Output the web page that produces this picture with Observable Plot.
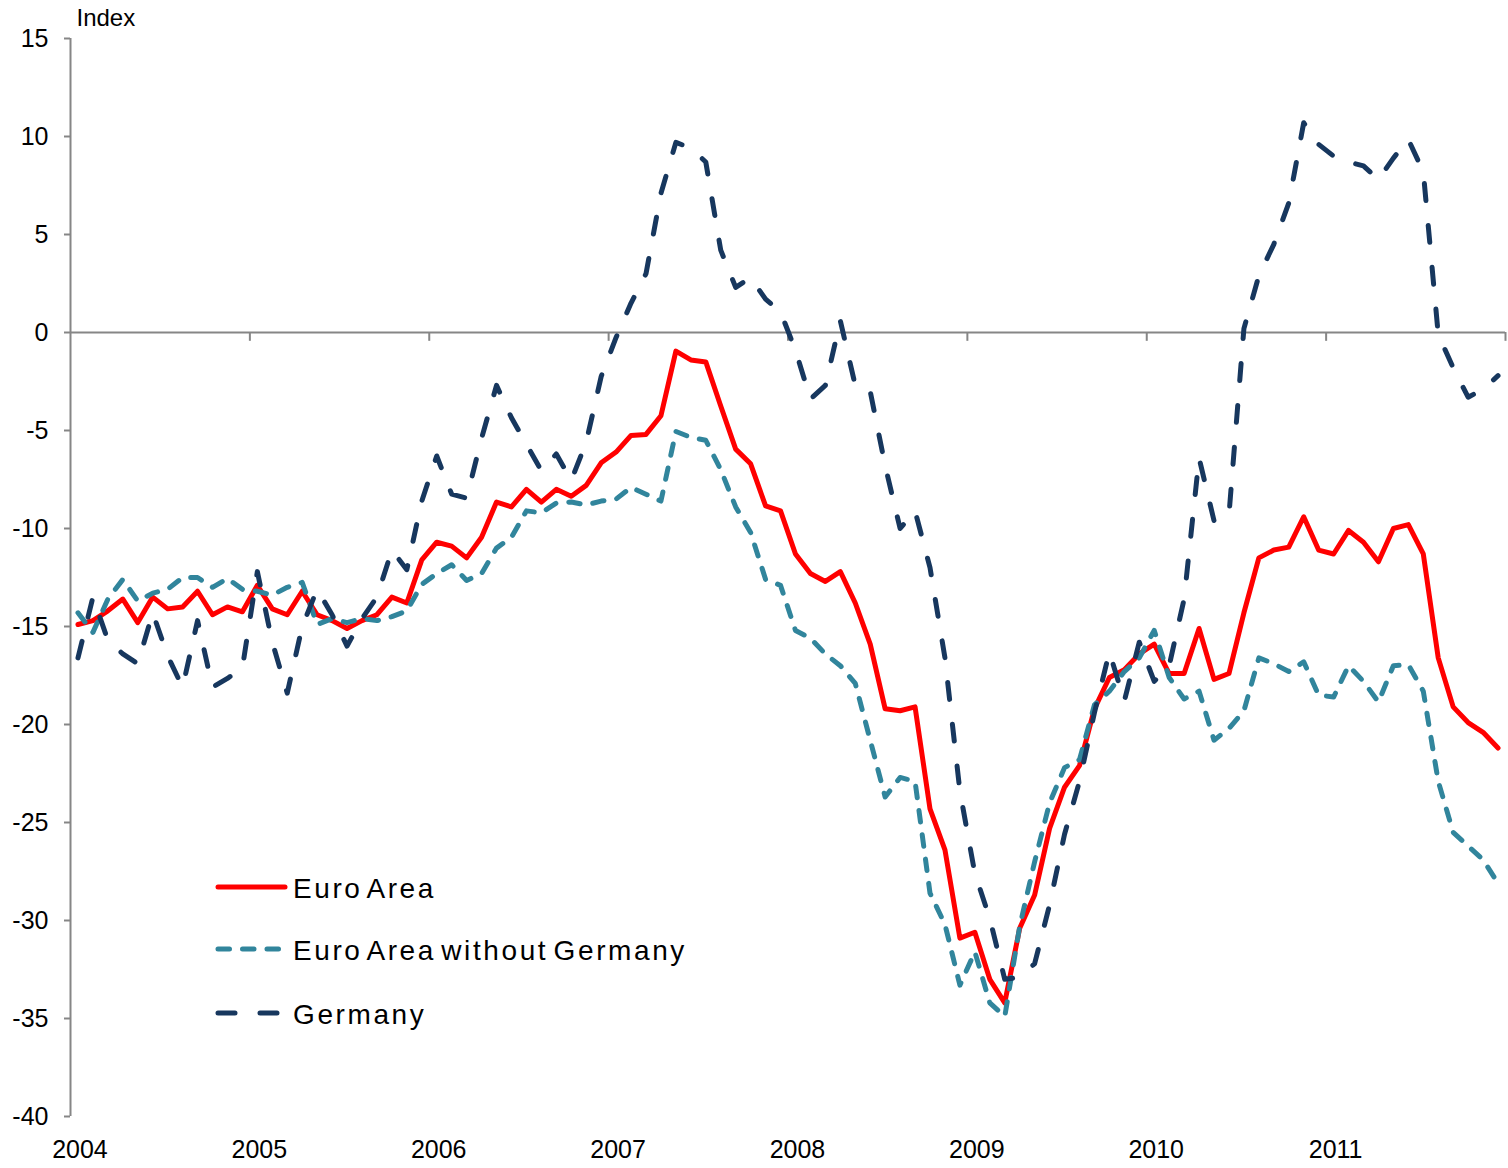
<!DOCTYPE html>
<html>
<head>
<meta charset="utf-8">
<script src="https://cdn.jsdelivr.net/npm/d3@7"></script>
<script src="https://cdn.jsdelivr.net/npm/@observablehq/plot@0.6"></script>
<style>
  html, body { margin: 0; padding: 0; background: #ffffff; }
  svg { display: block; }
</style>
</head>
<body>
<div id="chart"></div>
<script>
// ---- Data (monthly, Jan 2004 – Dec 2011) ----
const years = ["2004", "2005", "2006", "2007", "2008", "2009", "2010", "2011"];
const yTicks = [-40, -35, -30, -25, -20, -15, -10, -5, 0, 5, 10, 15];
const seriesNames = ["Euro Area", "Euro Area without Germany", "Germany"];

const euroArea = [
  -14.9, -14.7, -14.2, -13.6, -14.8, -13.5, -14.1, -14.0, -13.2, -14.4, -14.0, -14.25,
  -12.9, -14.1, -14.4, -13.2, -14.4, -14.7, -15.1, -14.7, -14.4, -13.5, -13.8, -11.6,
  -10.7, -10.9, -11.5, -10.45, -8.65, -8.9, -8.0, -8.65, -8.0, -8.35, -7.8, -6.65,
  -6.1, -5.25, -5.2, -4.25, -0.95, -1.4, -1.5, -3.75, -5.95, -6.7, -8.85, -9.1,
  -11.3, -12.3, -12.7, -12.2, -13.8, -15.9, -19.2, -19.3, -19.1, -24.3, -26.4, -30.9,
  -30.6, -33.0, -34.2, -30.4, -28.7, -25.3, -23.2, -22.1, -19.2, -17.6, -17.2, -16.4,
  -15.9, -17.4, -17.4, -15.1, -17.7, -17.4, -14.3, -11.5, -11.1, -10.95, -9.4, -11.1,
  -11.3, -10.1, -10.7, -11.7, -10.0, -9.8, -11.3, -16.6, -19.1, -19.9, -20.4, -21.2
];

const euroAreaExGermany = [
  -14.3, -15.3, -13.6, -12.6, -13.7, -13.3, -13.1, -12.5, -12.5, -13.0, -12.55, -13.1,
  -13.2, -13.4, -13.0, -12.75, -14.9, -14.6, -14.8, -14.6, -14.7, -14.5, -14.2, -12.85,
  -12.3, -11.85, -12.65, -12.3, -11.0, -10.45, -9.1, -9.2, -8.7, -8.65, -8.8, -8.6,
  -8.5, -7.9, -8.25, -8.6, -5.05, -5.35, -5.5, -7.0, -8.9, -10.2, -12.6, -12.9,
  -15.2, -15.6, -16.4, -17.0, -17.9, -20.8, -23.7, -22.7, -22.9, -28.6, -30.2, -33.3,
  -31.6, -34.2, -34.9, -30.3, -27.0, -24.0, -22.2, -21.8, -19.0, -18.3, -17.3, -16.6,
  -15.2, -17.6, -18.7, -18.3, -20.8, -20.2, -19.3, -16.6, -16.9, -17.3, -16.8, -18.5,
  -18.6, -17.0, -17.8, -18.85, -17.0, -16.95, -18.3, -22.9, -25.5, -26.2, -26.9, -28.1
];

const germany = [
  -16.6, -13.5, -15.7, -16.4, -16.9, -14.3, -16.5, -18.1, -14.7, -18.1, -17.65, -17.1,
  -12.2, -15.8, -18.4, -15.0, -13.1, -14.4, -16.0, -14.6, -13.5, -11.1, -12.1, -8.6,
  -6.3, -8.25, -8.45, -5.4, -2.7, -4.35, -5.7, -7.05, -6.2, -7.55, -5.6, -2.25,
  -0.25, 1.5, 3.0, 7.1, 9.7, 9.4, 8.7, 4.2, 2.3, 2.8, 1.7, 1.05,
  -0.9, -3.4, -2.7, 0.6, -2.7, -3.0, -6.8, -10.0, -9.1, -12.0, -16.6, -23.4,
  -27.6, -29.9, -33.0, -32.9, -32.2, -29.2, -25.6, -22.9, -19.4, -16.3, -18.8, -15.8,
  -17.8, -17.0, -13.6, -6.4, -9.6, -9.3, 0.2, 2.9, 4.5, 6.6, 10.7, 9.6,
  9.0, 8.7, 8.5, 7.8, 8.9, 9.85, 8.2, -0.1, -1.8, -3.3, -2.9, -2.2
];

// ---- Styles ----
const FONT = "'Liberation Sans', Arial, Helvetica, sans-serif";
const AXIS_GREY = "#868686";
const seriesStyle = [
  {color: "#FF0000", dash: null},
  {color: "#31859C", dash: "11.5,13"},
  {color: "#17375E", dash: "17,25"}
];
const LW = 5;

// month index -> centre of that month on a 0..96 axis
const toRows = (vals) => vals.map((v, i) => ({m: i + 0.5, v}));
const allSeries = [euroArea, euroAreaExGermany, germany];
const nMonths = years.length * 12;
const yearBounds = d3.range(1, years.length + 1).map(k => k * 12);
const yearLabelPos = years.map((_, k) => k * 12 + 0.5);

const lineMarks = allSeries.map((vals, s) => Plot.line(toRows(vals), {
  x: "m", y: "v",
  stroke: seriesStyle[s].color,
  strokeWidth: LW,
  strokeDasharray: seriesStyle[s].dash,
  strokeLinecap: "round",
  strokeLinejoin: "round"
}));

const plot = Plot.plot({
  width: 1508,
  height: 1168,
  marginLeft: 70,
  marginRight: 3,
  marginTop: 38,
  marginBottom: 52,
  x: {domain: [0, nMonths], axis: null, label: null},
  y: {domain: [-40, 15], axis: null, label: null},
  style: {fontFamily: FONT, fontSize: "25px", color: "#000", background: "#fff", overflow: "visible"},
  marks: [
    // zero line (category axis crosses at 0)
    Plot.ruleY([0], {stroke: AXIS_GREY, strokeWidth: 2}),
    // year boundary ticks hanging below the zero line
    Plot.ruleX(yearBounds, {x: d => d, y1: 0, y2: -0.45, stroke: AXIS_GREY, strokeWidth: 2}),
    // value axis line
    Plot.ruleX([0], {y1: -40, y2: 15, stroke: AXIS_GREY, strokeWidth: 2}),
    // value axis ticks
    Plot.axisY({ticks: yTicks, tickSize: 6, tickFormat: () => "", label: null,
      stroke: AXIS_GREY, strokeWidth: 2}),
    // value axis labels
    Plot.axisY({ticks: yTicks, tickSize: 0, tickPadding: 22, tickFormat: d => String(d),
      label: null, fontSize: 25, fill: "#000"}),
    // year labels
    Plot.axisX({ticks: yearLabelPos, tickSize: 0, tickPadding: 24, dx: 2, label: null,
      tickFormat: d => years[Math.round((d - 0.5) / 12)], fontSize: 25, fill: "#000"}),
    // unit label
    Plot.text(["Index"], {frameAnchor: "top-left", dx: 6, dy: -20, textAnchor: "start",
      lineAnchor: "middle", fontSize: 24, fill: "#000"}),
    ...lineMarks
  ]
});

document.getElementById("chart").appendChild(plot);

// ---- Legend (inside the plot area, lower left) ----
const svg = d3.select(plot);
const legendRows = [
  {y: 887, text: seriesNames[0], style: seriesStyle[0], x2: 285},
  {y: 949, text: seriesNames[1], style: seriesStyle[1], x2: 282},
  {y: 1013, text: seriesNames[2], style: seriesStyle[2], x2: 282}
];
const lg = svg.append("g").attr("class", "legend").attr("text-anchor", "start");
legendRows.forEach(r => {
  lg.append("line")
    .attr("x1", 218).attr("x2", r.x2)
    .attr("y1", r.y).attr("y2", r.y)
    .attr("stroke", r.style.color)
    .attr("stroke-width", LW)
    .attr("stroke-linecap", "round")
    .attr("stroke-dasharray", r.style.dash);
  lg.append("text")
    .attr("x", 293).attr("y", r.y + 11)
    .attr("text-anchor", "start")
    .attr("font-family", FONT)
    .attr("font-size", 28)
    .attr("letter-spacing", "2.6px")
    .attr("word-spacing", "-5px")
    .attr("fill", "#000")
    .text(r.text);
});
</script>
</body>
</html>
